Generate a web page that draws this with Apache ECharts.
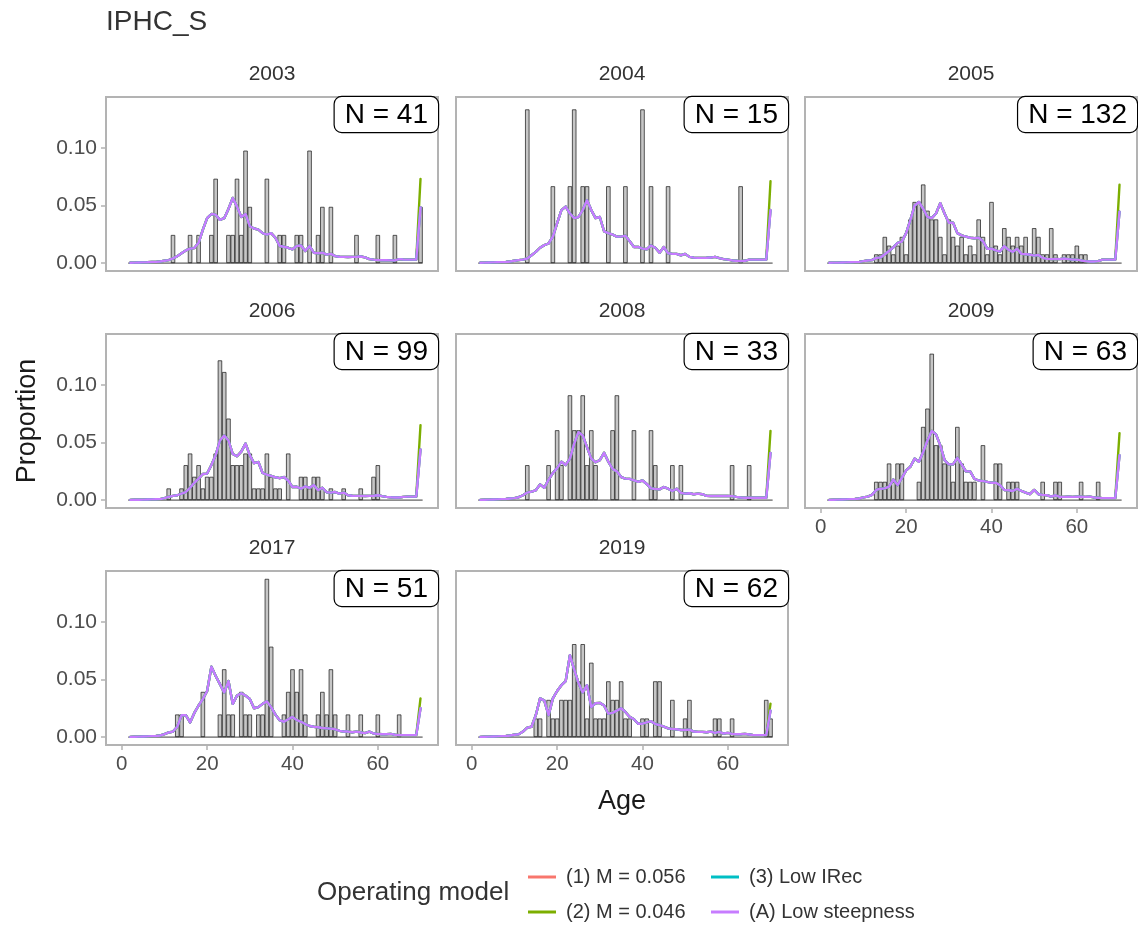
<!DOCTYPE html>
<html>
<head>
<meta charset="utf-8">
<title>IPHC_S age compositions</title>
<script src="https://cdn.jsdelivr.net/npm/echarts@6/dist/echarts.min.js"></script>
<style>
  html, body { margin: 0; padding: 0; background: #ffffff; }
  #chart { width: 1138px; height: 926px; }
</style>
</head>
<body>
<div id="chart"></div>
<script>
// Ages in the composition (plus group at 70)
const ages = [2,3,4,5,6,7,8,9,10,11,12,13,14,15,16,17,18,19,20,21,22,23,24,25,26,27,28,29,30,31,32,33,34,35,36,37,38,39,40,41,42,43,44,45,46,47,48,49,50,51,52,53,54,55,56,57,58,59,60,61,62,63,64,65,66,67,68,69,70];
const xTicks = [0, 20, 40, 60];
const yTicks = [0, 0.05, 0.10];

const years = ['2003', '2004', '2005', '2006', '2008', '2009', '2017', '2019'];
const sampleN = [41, 15, 132, 99, 33, 63, 51, 62];

const models = ['(1) M = 0.056', '(2) M = 0.046', '(3) Low IRec', '(A) Low steepness'];
const modelColors = ['#F8766D', '#7CAE00', '#00BFC4', '#C77CFF'];

// Observed fish counts by age (ages 2..70)
const counts2003 = [0,0,0,0,0,0,0,0,0,0, 1,0,0,0,1,0,1,0,0,1, 3,0,0,1,1,3,1,4,2,0, 0,0,3,0,0,1,1,0,0,1, 1,0,4,0,1,2,0,2,0,0, 0,0,0,1,0,0,0,0,1,0, 0,0,1,0,0,0,0,0,2];
const counts2004 = [0,0,0,0,0,0,0,0,0,0, 0,2,0,0,0,0,0,1,0,0, 0,1,2,0,1,1,0,0,0,0, 1,0,0,0,1,0,0,0,2,0, 1,0,0,0,1,0,0,0,0,0, 0,0,0,0,0,0,0,0,0,0, 0,1,0,0,0,0,0,0,0];
const counts2005 = [0,0,0,0,0,0,0,0,0,0, 0,1,1,3,2,1,2,3,1,5, 7,7,9,6,5,5,3,1,5,3, 2,3,1,2,1,5,3,1,7,2, 1,4,3,2,3,2,3,1,4,3, 1,1,4,1,0,1,1,1,2,1, 1,0,0,0,0,0,0,0,0];
const counts2006 = [0,0,0,0,0,0,0,0,0,1, 0,0,1,3,4,2,3,1,2,2, 4,12,11,7,3,3,3,4,4,1, 1,1,4,2,1,1,0,4,0,0, 2,2,1,2,2,1,0,1,0,0, 1,0,0,0,1,0,0,2,3,0, 0,0,0,0,0,0,0,0,0];
const counts2008 = [0,0,0,0,0,0,0,0,0,0, 0,1,0,0,0,0,1,0,2,1, 0,3,2,2,3,1,2,1,0,0, 0,2,3,0,0,0,2,0,0,0, 2,1,0,0,0,1,0,1,0,0, 0,0,0,0,0,0,0,0,0,1, 0,0,0,1,0,0,0,0,0];
const counts2009 = [0,0,0,0,0,0,0,0,0,0, 0,1,1,1,2,1,2,2,0,0, 0,1,4,5,8,3,3,2,2,1, 4,2,1,1,1,0,3,0,0,2, 2,0,1,1,1,0,0,0,0,0, 1,0,0,1,1,0,0,0,0,1, 0,0,0,1,0,0,0,0,0];
const counts2017 = [0,0,0,0,0,0,0,0,0,0, 0,1,1,0,0,0,0,2,0,0, 0,1,3,1,1,0,2,1,1,0, 1,1,7,4,0,0,1,2,3,2, 3,1,0,0,1,2,1,3,1,0, 0,1,0,0,1,0,0,0,1,0, 0,0,0,1,0,0,0,0,0];
const counts2019 = [0,0,0,0,0,0,0,0,0,0, 0,0,0,1,1,0,2,1,1,2, 2,2,5,3,5,1,4,1,1,1, 3,2,2,3,1,1,0,0,1,1, 0,3,3,0,0,2,0,0,1,2, 0,0,0,0,0,1,1,0,0,1, 0,0,0,0,0,0,0,2,1];

// Expected proportions, ages 2..69 (the four models coincide over these ages)
const fit2003 = [0.0003,0.0004,0.0005,0.0006,0.0007,0.0009,0.0011,0.0014,0.002,0.0026, 0.004,0.006,0.0085,0.011,0.0125,0.013,0.0176,0.029,0.039,0.0426, 0.042,0.0375,0.039,0.047,0.0565,0.049,0.040,0.0426,0.032,0.030, 0.029,0.026,0.0247,0.026,0.022,0.0148,0.0142,0.0133,0.012,0.0148, 0.0153,0.0105,0.0148,0.009,0.0085,0.009,0.0074,0.008,0.006,0.0055, 0.0054,0.0053,0.0054,0.0055,0.0057,0.005,0.0034,0.003,0.0027,0.0025, 0.0025,0.0024,0.0023,0.0034,0.0031,0.003,0.003,0.003];
const fit2004 = [0.0003,0.0004,0.0005,0.0006,0.0007,0.0008,0.001,0.0014,0.002,0.0026, 0.003,0.004,0.0068,0.0097,0.0133,0.0156,0.017,0.023,0.0347,0.046, 0.049,0.043,0.039,0.040,0.046,0.0545,0.046,0.039,0.040,0.0276, 0.026,0.0247,0.023,0.023,0.0238,0.019,0.014,0.014,0.0125,0.012, 0.0153,0.0133,0.009,0.014,0.0085,0.008,0.008,0.0068,0.008,0.0054, 0.0047,0.0045,0.0045,0.0046,0.0048,0.0054,0.0043,0.0034,0.003,0.0023, 0.002,0.0017,0.002,0.003,0.003,0.003,0.003,0.003];
const fit2005 = [0.0003,0.0004,0.0004,0.0005,0.0006,0.0007,0.0008,0.001,0.0017,0.0023, 0.0026,0.0045,0.0048,0.0077,0.0105,0.0136,0.0176,0.0187,0.026,0.0375, 0.050,0.053,0.047,0.040,0.039,0.043,0.052,0.043,0.035,0.035, 0.026,0.024,0.023,0.022,0.0216,0.022,0.019,0.0125,0.0125,0.011, 0.010,0.0148,0.0114,0.0097,0.0125,0.008,0.0077,0.0074,0.0065,0.007, 0.0045,0.0037,0.0034,0.0037,0.0034,0.004,0.0034,0.003,0.003,0.0023, 0.0017,0.0014,0.0014,0.0017,0.003,0.003,0.003,0.003];
const fit2006 = [0.0002,0.0003,0.0003,0.0004,0.0005,0.0006,0.0007,0.0008,0.0017,0.0028, 0.0037,0.0042,0.0056,0.007,0.0107,0.015,0.0186,0.0226,0.023,0.0305, 0.039,0.0517,0.056,0.0517,0.040,0.038,0.042,0.049,0.039,0.032, 0.033,0.0235,0.022,0.021,0.0198,0.019,0.020,0.017,0.0113,0.0116, 0.0099,0.012,0.0107,0.013,0.0085,0.0107,0.0068,0.0065,0.007,0.0056, 0.0065,0.0042,0.0038,0.0037,0.0037,0.0036,0.0037,0.0038,0.0042,0.0034, 0.0028,0.0025,0.0023,0.0023,0.0028,0.003,0.003,0.003];
const fit2008 = [0.0002,0.0003,0.0004,0.0005,0.0006,0.0008,0.001,0.0014,0.0017,0.0025, 0.0042,0.0065,0.0073,0.0085,0.0136,0.0107,0.0178,0.0235,0.0277,0.0333, 0.0305,0.036,0.049,0.059,0.056,0.046,0.036,0.0328,0.0347,0.041, 0.0333,0.027,0.0249,0.020,0.0186,0.0184,0.0172,0.0158,0.017,0.014, 0.0102,0.0096,0.0093,0.0113,0.0099,0.0079,0.0099,0.0062,0.0056,0.0059, 0.0051,0.0056,0.0051,0.0037,0.0036,0.0035,0.0035,0.0036,0.0035,0.0034, 0.0028,0.0023,0.002,0.002,0.002,0.002,0.002,0.002];
const fit2009 = [0.0002,0.0003,0.0004,0.0005,0.0006,0.0008,0.001,0.0014,0.0023,0.003, 0.0045,0.0088,0.0099,0.0102,0.0116,0.0178,0.013,0.0192,0.0257,0.029, 0.036,0.0333,0.0418,0.0517,0.060,0.057,0.0475,0.0347,0.031,0.031, 0.0367,0.031,0.0249,0.0249,0.0184,0.017,0.0164,0.0158,0.015,0.015, 0.013,0.0088,0.0085,0.0079,0.0099,0.0079,0.0065,0.0051,0.0088,0.0051, 0.0045,0.0042,0.003,0.0042,0.0028,0.0028,0.0029,0.0028,0.0029,0.003, 0.0028,0.003,0.0023,0.002,0.0017,0.0017,0.0017,0.0017];
const fit2017 = [0.0002,0.0003,0.0004,0.0005,0.0006,0.0008,0.001,0.0014,0.0025,0.004, 0.0048,0.009,0.019,0.019,0.0127,0.021,0.0274,0.033,0.040,0.061, 0.053,0.046,0.0387,0.0486,0.0288,0.036,0.038,0.036,0.033,0.025, 0.026,0.0288,0.031,0.026,0.0195,0.0147,0.0133,0.0155,0.0175,0.0147, 0.0133,0.0113,0.0096,0.009,0.0085,0.0079,0.0076,0.0073,0.0068,0.0054, 0.0048,0.0048,0.0042,0.0048,0.004,0.0034,0.0048,0.0031,0.0028,0.0025, 0.0025,0.0028,0.002,0.0017,0.0017,0.0017,0.0017,0.0017];
const fit2019 = [0.0002,0.0003,0.0004,0.0005,0.0006,0.0008,0.001,0.0014,0.002,0.0025, 0.0048,0.0082,0.009,0.019,0.0336,0.0316,0.019,0.0336,0.040,0.045, 0.0486,0.071,0.0585,0.047,0.0387,0.045,0.026,0.0294,0.0297,0.0274, 0.0203,0.021,0.023,0.025,0.0218,0.0175,0.0155,0.0116,0.0116,0.0127, 0.0138,0.0113,0.0105,0.009,0.0076,0.007,0.0068,0.0062,0.0062,0.0065, 0.0048,0.0045,0.0045,0.0042,0.0048,0.0037,0.0045,0.0031,0.0037,0.0028, 0.0025,0.0025,0.0028,0.0023,0.0017,0.0017,0.0017,0.0017];

// Expected plus-group (age 70) proportion for each model: (1), (2), (3), (A)
const plus2003 = [0.0483, 0.073, 0.0483, 0.0483];
const plus2004 = [0.046, 0.071, 0.046, 0.046];
const plus2005 = [0.0446, 0.068, 0.0446, 0.0446];
const plus2006 = [0.044, 0.065, 0.044, 0.044];
const plus2008 = [0.041, 0.060, 0.041, 0.041];
const plus2009 = [0.039, 0.058, 0.039, 0.039];
const plus2017 = [0.025, 0.0336, 0.025, 0.025];
const plus2019 = [0.023, 0.029, 0.023, 0.023];

const countsByYear = [counts2003, counts2004, counts2005, counts2006, counts2008, counts2009, counts2017, counts2019];
const fitByYear = [fit2003, fit2004, fit2005, fit2006, fit2008, fit2009, fit2017, fit2019];
const plusByYear = [plus2003, plus2004, plus2005, plus2006, plus2008, plus2009, plus2017, plus2019];

// ---- facet layout ----
const colLeft = [106, 456, 805];
const colWidth = 332;
const rowTop = [97, 334, 571];
const rowHeight = 174;
const FONT = '"Liberation Sans", Arial, sans-serif';
const tickGrey = '#4d4d4d';
const frameGrey = '#b3b3b3';

const grids = [], xAxes = [], yAxes = [], series = [], graphics = [];

years.forEach((yr, i) => {
  const col = i % 3, row = Math.floor(i / 3);
  const left = colLeft[col], top = rowTop[row];
  const showX = (i >= 5);          // bottom panel of each column
  const showY = (col === 0);

  grids.push({
    left: left, top: top, width: colWidth, height: rowHeight,
    show: true, borderColor: frameGrey, borderWidth: 2, backgroundColor: '#ffffff'
  });

  xAxes.push({
    type: 'value', gridIndex: i, min: -3.7, max: 74.1, position: 'bottom',
    axisLine: { show: false, onZero: false },
    splitLine: { show: false },
    axisTick: { show: showX, length: 5, lineStyle: { color: frameGrey, width: 1.5 }, customValues: xTicks },
    axisLabel: { show: showX, customValues: xTicks, margin: 9, color: tickGrey, fontSize: 20.5, fontFamily: FONT },
    name: (i === 7) ? 'Age' : '',
    nameLocation: 'middle', nameGap: 43,
    nameTextStyle: { fontSize: 27, color: '#1a1a1a', fontFamily: FONT }
  });

  yAxes.push({
    type: 'value', gridIndex: i, min: -0.00686, max: 0.1441, position: 'left',
    axisLine: { show: false, onZero: false },
    splitLine: { show: false },
    axisTick: { show: showY, length: 5, lineStyle: { color: frameGrey, width: 1.5 }, customValues: yTicks },
    axisLabel: {
      show: showY, customValues: yTicks, margin: 9, color: tickGrey, fontSize: 21, fontFamily: FONT,
      formatter: v => v.toFixed(2)
    },
    name: (i === 3) ? 'Proportion' : '',
    nameLocation: 'middle', nameGap: 65, nameRotate: 90,
    nameTextStyle: { fontSize: 27, color: '#1a1a1a', fontFamily: FONT }
  });

  const n = sampleN[i];
  const counts = countsByYear[i];
  const barData = [];
  ages.forEach((a, k) => { if (counts[k] > 0) barData.push([a, counts[k] / n]); });

  series.push({
    type: 'bar', xAxisIndex: i, yAxisIndex: i, data: barData,
    barWidth: 4.4, silent: true,
    itemStyle: { color: '#c6c6c6', borderColor: '#222222', borderWidth: 0.75 },
    z: 2
  });

  // zero-height outline running along all age classes
  series.push({
    type: 'line', xAxisIndex: i, yAxisIndex: i, data: [[1.5, 0], [70.5, 0]],
    symbol: 'none', silent: true, lineStyle: { color: '#222222', width: 0.9 }, z: 3
  });

  const fit = fitByYear[i], plus = plusByYear[i];
  models.forEach((m, mi) => {
    const data = ages.map((a, k) => [a, k < fit.length ? fit[k] : plus[mi]]);
    series.push({
      type: 'line', name: m, xAxisIndex: i, yAxisIndex: i, data: data,
      symbol: 'none', silent: true,
      lineStyle: { color: modelColors[mi], width: 2.4, join: 'round', cap: 'round' },
      itemStyle: { color: modelColors[mi] },
      z: 4 + mi
    });
  });

  // facet strip
  graphics.push({
    type: 'text', x: left + colWidth / 2, y: top - 23, z: 100,
    style: { text: yr, fontSize: 21, fill: '#333333', fontFamily: FONT, align: 'center', verticalAlign: 'middle' }
  });

  // sample size box in the top-right corner
  graphics.push({
    type: 'text', x: left + colWidth, y: top, z: 100,
    style: {
      text: 'N = ' + n, fontSize: 28, fill: '#000000', fontFamily: FONT,
      align: 'right', verticalAlign: 'top',
      backgroundColor: '#ffffff', borderColor: '#000000', borderWidth: 1.2, borderRadius: 7,
      padding: [4, 10, 3, 10]
    }
  });
});

graphics.push({
  type: 'text', x: 106, y: 22, z: 100,
  style: { text: 'IPHC_S', fontSize: 28, fill: '#333333', fontFamily: FONT, verticalAlign: 'middle' }
});
graphics.push({
  type: 'text', x: 317, y: 893, z: 100,
  style: { text: 'Operating model', fontSize: 26, fill: '#333333', fontFamily: FONT, verticalAlign: 'middle' }
});

// one legend entry per slot: two columns of two rows
const legendText = { fontSize: 20, color: '#333333', fontFamily: FONT, padding: [0, 0, 0, 5] };
const legendSlots = [[528, 867], [528, 902], [711, 867], [711, 902]];
const legends = models.map((m, mi) => ({
  data: [m], left: legendSlots[mi][0], top: legendSlots[mi][1], padding: 0,
  itemWidth: 28, itemHeight: 3, icon: 'rect', selectedMode: false,
  textStyle: legendText
}));

const option = {
  animation: false,
  backgroundColor: '#ffffff',
  grid: grids,
  xAxis: xAxes,
  yAxis: yAxes,
  series: series,
  graphic: graphics,
  legend: legends
};

const chart = echarts.init(document.getElementById('chart'), null, { renderer: 'canvas' });
chart.setOption(option);
</script>
</body>
</html>
